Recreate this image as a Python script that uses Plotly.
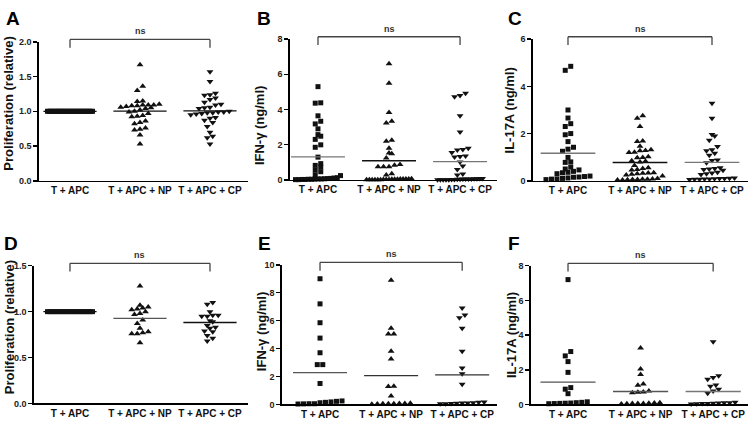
import numpy as np
import plotly.graph_objects as go

W, H = 753, 427
groups = ["T + APC", "T + APC + NP", "T + APC + CP"]

# ---------------- data ----------------
A_tapc = [1.00, 1.00, 1.00, 1.00, 1.00, 1.00, 1.00, 1.00, 1.00, 1.00,
          1.00, 1.00, 1.00, 1.00, 1.00, 1.00, 1.00, 1.00, 1.00, 1.00,
          1.00, 1.00, 1.00, 1.00, 1.00, 1.00, 1.00, 1.00, 1.00, 1.00]
A_np = [1.67, 1.36, 1.30, 1.15, 1.14, 1.10, 1.09, 1.09, 1.08, 1.08, 1.09, 1.07,
        1.06, 1.05, 1.04, 1.02, 1.00, 0.99, 0.97, 0.94, 0.93, 0.92, 0.86, 0.84,
        0.82, 0.76, 0.74, 0.73, 0.66, 0.53]
A_cp = [1.57, 1.43, 1.26, 1.24, 1.23, 1.19, 1.17, 1.13, 1.10, 1.09, 1.06, 1.05,
        1.04, 1.00, 0.99, 0.99, 0.98, 0.98, 0.97, 0.96, 0.95, 0.91, 0.90, 0.87,
        0.84, 0.78, 0.70, 0.64, 0.62, 0.53]

B_tapc = [5.30, 4.38, 4.36, 3.64, 3.33, 3.18, 2.90, 2.57, 2.48, 2.30, 1.99, 1.85,
          1.29, 0.92, 0.82, 0.72, 0.55, 0.46, 0.28, 0.24, 0.12, 0.10, 0.08, 0.07,
          0.06, 0.05, 0.05, 0.04, 0.03, 0.03, 0.02, 0.02, 0.01, 0.01]
B_np = [6.60, 5.49, 3.83, 3.33, 3.23, 2.25, 2.20, 1.79, 1.52, 1.48, 1.24, 0.87,
        0.83, 0.74, 0.74, 0.74, 0.35, 0.28, 0.06, 0.05, 0.05, 0.04, 0.04, 0.03,
        0.03, 0.03, 0.02, 0.02, 0.02, 0.01, 0.01, 0.01, 0.00, 0.00, 0.00]
B_cp = [4.93, 4.79, 4.72, 3.65, 2.72, 1.80, 1.72, 1.70, 1.55, 1.35, 1.33, 1.30,
        1.02, 0.78, 0.58, 0.33, 0.28, 0.08, 0.07, 0.06, 0.06, 0.05, 0.05, 0.04,
        0.04, 0.03, 0.03, 0.02, 0.02, 0.01, 0.01, 0.00, 0.00, 0.00]

C_tapc = [4.85, 4.68, 3.00, 2.66, 2.42, 2.30, 2.00, 1.95, 1.66, 1.42, 1.34, 1.25,
          0.99, 0.80, 0.78, 0.58, 0.50, 0.46, 0.40, 0.36, 0.34, 0.30, 0.20, 0.18,
          0.16, 0.15, 0.12, 0.10, 0.08, 0.07, 0.05]
C_np = [2.76, 2.65, 2.30, 1.69, 1.66, 1.46, 1.31, 1.28, 1.27, 1.21, 1.20, 1.02,
        0.99, 0.98, 0.85, 0.83, 0.80, 0.65, 0.55, 0.52, 0.48, 0.46, 0.34, 0.33,
        0.32, 0.30, 0.28, 0.25, 0.20, 0.10, 0.08, 0.07, 0.06, 0.05, 0.05, 0.04,
        0.03, 0.03]
C_cp = [3.28, 2.65, 1.96, 1.90, 1.72, 1.45, 1.31, 1.27, 1.17, 1.08, 0.88, 0.86,
        0.76, 0.55, 0.52, 0.50, 0.48, 0.45, 0.36, 0.33, 0.30, 0.27, 0.12, 0.11,
        0.10, 0.10, 0.09, 0.08, 0.08, 0.07, 0.06, 0.05]

D_tapc = [1.00, 1.00, 1.00, 1.00, 1.00, 1.00, 1.00, 1.00, 1.00,
          1.00, 1.00, 1.00, 1.00, 1.00, 1.00, 1.00, 1.00, 1.00]
D_np = [1.28, 1.07, 1.05, 1.04, 1.03, 1.02, 1.00, 0.98, 0.97, 0.91, 0.87, 0.82,
        0.78, 0.77, 0.76, 0.76, 0.66]
D_cp = [1.10, 1.08, 1.00, 0.96, 0.96, 0.95, 0.95, 0.90, 0.89, 0.85, 0.83, 0.82,
        0.79, 0.78, 0.74, 0.71, 0.68]

E_tapc = [9.00, 7.20, 5.85, 4.75, 3.70, 2.85, 2.85, 1.50, 0.25, 0.22, 0.18,
          0.15, 0.12, 0.05, 0.05, 0.04, 0.03]
E_np = [8.90, 5.45, 5.05, 5.05, 3.80, 3.25, 1.28, 1.30, 0.60, 0.08, 0.07, 0.06,
        0.05, 0.05, 0.04, 0.03, 0.02]
E_cp = [6.90, 6.40, 6.20, 5.45, 3.80, 2.60, 2.20, 1.45, 0.18, 0.15, 0.12, 0.10,
        0.10, 0.08, 0.06, 0.05, 0.04]

F_tapc = [7.20, 3.05, 2.80, 2.47, 1.85, 0.97, 0.88, 0.62, 0.15, 0.12, 0.10,
          0.08, 0.07, 0.06, 0.05, 0.04]
F_np = [3.25, 2.05, 1.72, 1.18, 1.10, 0.78, 0.70, 0.68, 0.72, 0.10, 0.08, 0.07,
        0.06, 0.05, 0.05, 0.04, 0.03]
F_cp = [3.62, 1.66, 1.55, 1.45, 1.12, 1.05, 0.88, 0.78, 0.65, 0.12, 0.10, 0.09,
        0.08, 0.07, 0.06, 0.05, 0.04, 0.03]

y_titles = ["Proliferation (relative)", "IFN-γ (ng/ml)", "IL-17A (ng/ml)",
            "Proliferation (relative)", "IFN-γ (ng/ml)", "IL-17A (ng/ml)"]
letters = ["A", "B", "C", "D", "E", "F"]
y_max = [2.0, 8, 6, 1.5, 10, 8]
y_dtick = [0.5, 2, 2, 0.5, 2, 2]
y_fmt = [".1f", "d", "d", ".1f", "d", "d"]
panel_data = [[A_tapc, A_np, A_cp], [B_tapc, B_np, B_cp], [C_tapc, C_np, C_cp],
              [D_tapc, D_np, D_cp], [E_tapc, E_np, E_cp], [F_tapc, F_np, F_cp]]

# ---------------- layout geometry (page pixels) ----------------
boxes = [(39, 248, 37.7, 180), (290, 497, 35, 179), (533, 748, 35, 180),
         (34, 248, 267, 408), (282, 497, 266, 409), (531, 748, 267, 409)]
xranges = [(-0.443, 2.543), (-0.394, 2.52), (-0.486, 2.5),
           (-0.514, 2.543), (-0.535, 2.49), (-0.51, 2.48)]
title_pos = [(9, 101), (259, 124), (509, 108), (9, 330), (261, 335), (511, 338)]
letter_pos = [(4, 14), (255, 14), (506, 14), (2, 244), (256, 244), (506, 244)]

symbols = ["square", "triangle-up", "triangle-down"]
sizes = [5, 6, 6]
mean_colors = [["#111", "#111", "#111"], ["#777", "#111", "#777"],
               ["#777", "#111", "#777"], ["#111", "#555", "#111"],
               ["#555", "#333", "#333"], ["#555", "#555", "#777"]]
FONT = "Liberation Sans, Arial, sans-serif"


def fx(px):
    return px / W


def fy(py):
    return (H - py) / H


def swarm(vals, px_y, px_x, cap_px=22.5, d_px=5.5, rowh=4.5):
    vals = np.asarray(vals, float)
    order = np.argsort(vals, kind="stable")
    offs = np.zeros(len(vals))
    rows, cur, start = [], [], None
    for idx in order:
        yp = vals[idx] * px_y
        if cur and yp - start < rowh:
            cur.append(idx)
        else:
            if cur:
                rows.append(cur)
            cur, start = [idx], yp
    if cur:
        rows.append(cur)
    for row in rows:
        n = len(row)
        if n == 1:
            continue
        s = min(d_px, 2 * cap_px / (n - 1))
        for k, idx in enumerate(row):
            offs[idx] = (k - (n - 1) / 2) * s / px_x
    return offs


fig = go.Figure()
layout = dict(width=W, height=H, margin=dict(l=0, r=0, t=0, b=0),
              paper_bgcolor="white", plot_bgcolor="white", showlegend=False)
shapes, annotations = [], []

for p in range(6):
    ax = "" if p == 0 else str(p + 1)
    xa, ya = "x" + ax, "y" + ax
    x0p, x1p, ytp, ybp = boxes[p]
    xr = xranges[p]
    px_x = (x1p - x0p) / (xr[1] - xr[0])
    px_y = (ybp - ytp) / y_max[p]
    hpx = ybp - ytp
    for g in range(3):
        vals = panel_data[p][g]
        off = swarm(vals, px_y, px_x)
        fig.add_trace(go.Scatter(
            x=g + off, y=vals, mode="markers", xaxis=xa, yaxis=ya,
            marker=dict(symbol=symbols[g], size=sizes[g], color="#111111",
                        line=dict(width=0)),
            cliponaxis=False, hoverinfo="skip"))
        m = float(np.mean(vals))
        fig.add_trace(go.Scatter(
            x=[g - 0.38, g + 0.38], y=[m, m], mode="lines", xaxis=xa, yaxis=ya,
            line=dict(color=mean_colors[p][g], width=1.3), cliponaxis=False,
            hoverinfo="skip"))
    layout["xaxis" + ax] = dict(
        domain=[fx(x0p), fx(x1p)], range=list(xr), anchor=ya,
        tickvals=[0, 1, 2], ticktext=groups, ticks="", showgrid=False,
        zeroline=False, showline=True, linecolor="#000", linewidth=1.6,
        tickfont=dict(family=FONT, size=10, color="#111", weight="bold"))
    layout["yaxis" + ax] = dict(
        domain=[fy(ybp), fy(ytp)], range=[0, y_max[p]], anchor=xa,
        dtick=y_dtick[p], tick0=0, tickformat=y_fmt[p], ticks="outside",
        ticklen=4, tickwidth=1.5, tickcolor="#000", showgrid=False,
        zeroline=False, showline=True, linecolor="#000", linewidth=1.6,
        tickfont=dict(family=FONT, size=9, color="#222", weight="bold"))
    # significance bracket
    ytop = 1 + 2.5 / hpx
    ydrop = 1 - 6 / hpx
    yref = ya + " domain"
    for (a, b, c, d) in [(0, ytop, 2, ytop), (0, ytop, 0, ydrop), (2, ytop, 2, ydrop)]:
        shapes.append(dict(type="line", xref=xa, yref=yref, x0=a, y0=b, x1=c, y1=d,
                           line=dict(color="#444", width=1.3)))
    annotations.append(dict(x=1, y=ytop, xref=xa, yref=yref, text="ns",
                            showarrow=False, yanchor="bottom", yshift=1,
                            font=dict(family=FONT, size=9, color="#333", weight="bold")))
    tx, ty = title_pos[p]
    annotations.append(dict(x=fx(tx), y=fy(ty), xref="paper", yref="paper",
                            text=y_titles[p], textangle=-90, showarrow=False,
                            xanchor="center", yanchor="middle",
                            font=dict(family=FONT, size=13, color="#111", weight="bold")))
    lx, ly = letter_pos[p]
    annotations.append(dict(x=fx(lx), y=fy(ly), xref="paper", yref="paper",
                            text=letters[p], showarrow=False, xanchor="left",
                            yanchor="middle",
                            font=dict(family=FONT, size=19, color="#000", weight="bold")))

layout["shapes"] = shapes
layout["annotations"] = annotations
fig.update_layout(**layout)
fig.write_html("out.html",
               config={"displayModeBar": False, "staticPlot": True},
               post_script="document.body.style.margin='0';"
                           "document.documentElement.style.overflow='hidden';")
